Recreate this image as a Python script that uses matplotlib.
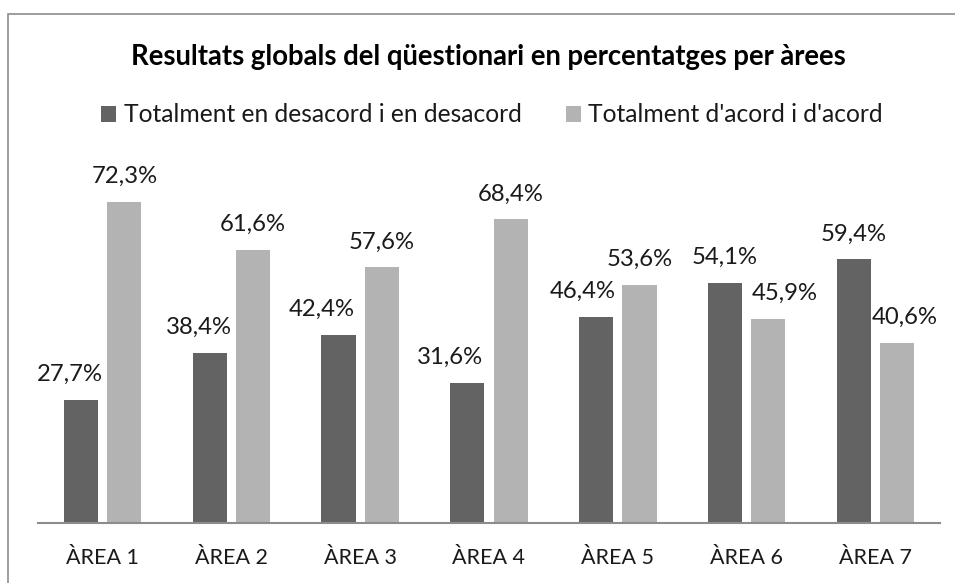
import matplotlib
matplotlib.use("Agg")
import matplotlib.pyplot as plt
import numpy as np
from matplotlib.patches import Rectangle

plt.rcParams['font.family'] = ['Lato', 'DejaVu Sans']

# data
areas = ['ÀREA 1', 'ÀREA 2', 'ÀREA 3', 'ÀREA 4', 'ÀREA 5', 'ÀREA 6', 'ÀREA 7']
desacord = [27.7, 38.4, 42.4, 31.6, 46.4, 54.1, 59.4]
acord = [72.3, 61.6, 57.6, 68.4, 53.6, 45.9, 40.6]
series_names = ['Totalment en desacord i en desacord', "Totalment d'acord i d'acord"]

# hand-moved data labels in the original (horizontal nudge, pixels)
nudge_desacord = [-11, -10.5, -16.5, -17, -13.5, 0, 0]
nudge_acord = [1, 0, 0, 0, 0, 16.5, 7.5]

W, H = 955, 583
fig = plt.figure(figsize=(W / 100, H / 100), dpi=100)

# chart frame (right and bottom edges fall outside the picture)
fig.patches.append(Rectangle((8 / W, -0.1), 1.2, 1.1 - 14 / H, transform=fig.transFigure,
                             fill=False, edgecolor='#8c8c8c', linewidth=1.2))

ax = fig.add_axes([38 / W, 60 / H, (940 - 38) / W, 355 / H])
x = np.arange(len(areas))
bw = 0.265
off = 0.1675
b1 = ax.bar(x - off, desacord, bw, color='#636363', label=series_names[0])
b2 = ax.bar(x + off, acord, bw, color='#b3b3b3', label=series_names[1])

fmt = lambda v: ('%.1f%%' % v).replace('.', ',')
for bars, vals, nudges in ((b1, desacord, nudge_desacord), (b2, acord, nudge_acord)):
    for r, v, dx in zip(bars, vals, nudges):
        ax.annotate(fmt(v), (r.get_x() + r.get_width() / 2, v),
                    xytext=(dx * 0.72, 19 * 0.72), textcoords='offset points',
                    ha='center', va='baseline', fontsize=17.2, color='#1a1a1a')

ax.set_xlim(-0.5, len(areas) - 0.5)
ax.set_ylim(0, 80)
ax.set_xticks(x)
ax.set_xticklabels(areas, fontsize=15.5, color='#1a1a1a')
ax.tick_params(axis='x', length=0, pad=18)
ax.set_yticks([])
for s in ('top', 'right', 'left'):
    ax.spines[s].set_visible(False)
ax.spines['bottom'].set_color('#8c8c8c')
ax.spines['bottom'].set_linewidth(1.5)

fig.text(488 / W, 1 - 57 / H, 'Resultats globals del qüestionari en percentatges per àrees',
         ha='center', va='center', fontsize=19.8, fontweight='bold')
fig.legend(handles=[b1, b2], loc='center', bbox_to_anchor=(492 / W, 1 - 115 / H), ncol=2,
           frameon=False, fontsize=17.7, handlelength=0.6, handleheight=0.6,
           handletextpad=0.32, columnspacing=1.8, labelcolor='#1a1a1a')

fig.savefig('out.png', dpi=100)
